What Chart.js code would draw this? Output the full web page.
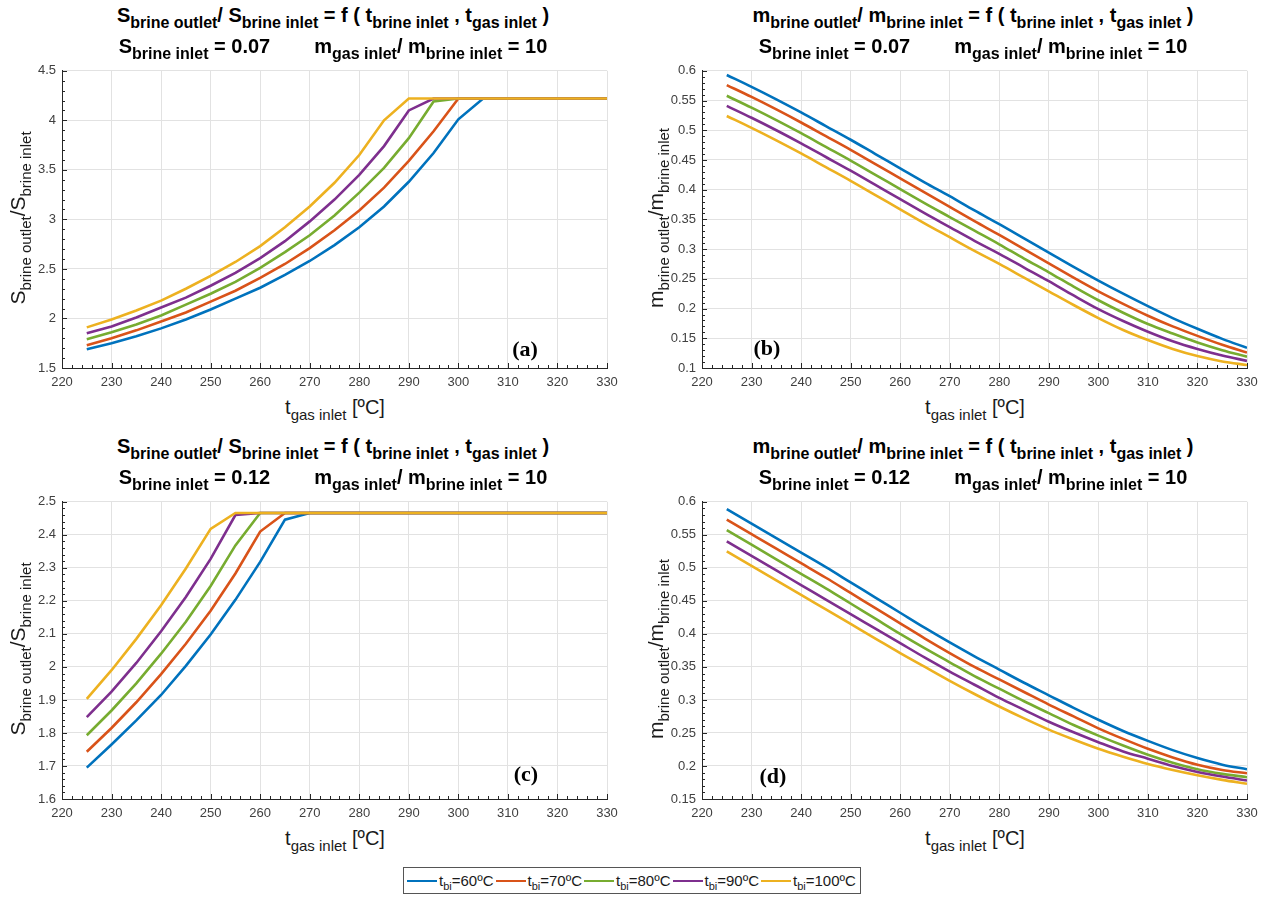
<!DOCTYPE html>
<html>
<head>
<meta charset="utf-8">
<script src="https://cdn.jsdelivr.net/npm/chart.js@4.4.0/dist/chart.umd.min.js"></script>
<style>
  html, body { margin: 0; padding: 0; background: #fff; }
  #fig { position: relative; width: 1265px; height: 897px; overflow: hidden; font-family: "Liberation Sans", Arial, sans-serif; color: #000; }
  #fig canvas { position: absolute; }
  .tl { position: absolute; width: 600px; height: 20px; line-height: 20px; text-align: center; font-weight: bold; font-size: 20px; white-space: nowrap; }
  .tl sub { font-size: 16px; vertical-align: -6px; line-height: 0; }
  .xl { position: absolute; width: 300px; height: 20px; line-height: 20px; text-align: center; font-size: 20px; white-space: nowrap; color: #1a1a1a; }
  .yl { position: absolute; width: 300px; height: 24px; line-height: 24px; text-align: center; font-size: 21px; white-space: nowrap; color: #1a1a1a; transform: rotate(-90deg); }
  .xl sub, .yl sub { font-size: 15px; vertical-align: -6px; line-height: 0; }
  .tag { position: absolute; width: 60px; height: 24px; line-height: 24px; text-align: center; font: bold 22px "Liberation Serif", "Times New Roman", serif; }
  #legend { position: absolute; left: 403px; top: 867px; height: 25px; border: 1px solid #555; background: #fff; display: flex; align-items: center; padding: 0 4px 0 3px; font-size: 15px; color: #1a1a1a; white-space: nowrap; }
  #legend .it { display: flex; align-items: center; margin-right: 2px; }
  #legend .it:last-child { margin-right: 0; }
  #legend .sw { display: inline-block; width: 30px; height: 0; border-top: 2.5px solid; margin-right: 2px; }
  #legend .tx { display: inline-block; line-height: 18px; color: #1a1a1a; }
  #legend sub { font-size: 11px; vertical-align: -4px; line-height: 0; color: #1a1a1a; }
</style>
</head>
<body>
<div id="fig"></div>
<script>
// x axis (shared by all four panels)
const TEMPS = [225, 230, 235, 240, 245, 250, 255, 260, 265, 270, 275, 280, 285, 290, 295, 300, 305, 310, 315, 320, 325, 330];
const X_RANGE = [220, 330, 10, 2];          // min, max, major step, minor step
const BRINE_TEMPS = ['60', '70', '80', '90', '100'];
const COLORS = ['#0072BD', '#D95319', '#77AC30', '#7E2F8E', '#EDB120'];

// (a) salinity ratio, S inlet = 0.07
const SA_60  = [1.69, 1.75, 1.82, 1.90, 1.99, 2.09, 2.20, 2.31, 2.44, 2.58, 2.74, 2.92, 3.13, 3.38, 3.67, 4.01, 4.22, 4.22, 4.22, 4.22, 4.22, 4.22];
const SA_70  = [1.73, 1.80, 1.88, 1.97, 2.06, 2.17, 2.28, 2.41, 2.55, 2.71, 2.89, 3.09, 3.32, 3.59, 3.89, 4.22, 4.22, 4.22, 4.22, 4.22, 4.22, 4.22];
const SA_80  = [1.79, 1.86, 1.94, 2.03, 2.14, 2.25, 2.37, 2.51, 2.67, 2.84, 3.04, 3.27, 3.52, 3.82, 4.19, 4.22, 4.22, 4.22, 4.22, 4.22, 4.22, 4.22];
const SA_90  = [1.85, 1.92, 2.01, 2.11, 2.21, 2.33, 2.46, 2.61, 2.78, 2.98, 3.20, 3.45, 3.74, 4.10, 4.22, 4.22, 4.22, 4.22, 4.22, 4.22, 4.22, 4.22];
const SA_100 = [1.91, 1.99, 2.08, 2.18, 2.30, 2.43, 2.57, 2.73, 2.92, 3.13, 3.37, 3.65, 4.00, 4.22, 4.22, 4.22, 4.22, 4.22, 4.22, 4.22, 4.22, 4.22];
const Y_A = [1.5, 4.5, 0.5, 0.1];

// (b) mass ratio, S inlet = 0.07
const MB_60  = [0.593, 0.573, 0.552, 0.530, 0.507, 0.484, 0.460, 0.436, 0.412, 0.389, 0.365, 0.342, 0.318, 0.294, 0.270, 0.247, 0.225, 0.204, 0.184, 0.166, 0.149, 0.134];
const MB_70  = [0.576, 0.556, 0.535, 0.513, 0.490, 0.467, 0.443, 0.419, 0.395, 0.371, 0.347, 0.324, 0.300, 0.276, 0.252, 0.229, 0.208, 0.188, 0.170, 0.154, 0.139, 0.126];
const MB_80  = [0.558, 0.538, 0.517, 0.495, 0.472, 0.449, 0.425, 0.401, 0.377, 0.354, 0.331, 0.308, 0.284, 0.261, 0.237, 0.214, 0.193, 0.174, 0.158, 0.143, 0.130, 0.119];
const MB_90  = [0.541, 0.521, 0.500, 0.478, 0.455, 0.432, 0.408, 0.384, 0.360, 0.337, 0.314, 0.292, 0.269, 0.246, 0.222, 0.199, 0.179, 0.161, 0.145, 0.132, 0.121, 0.112];
const MB_100 = [0.524, 0.504, 0.483, 0.461, 0.438, 0.415, 0.391, 0.367, 0.343, 0.320, 0.297, 0.275, 0.252, 0.229, 0.206, 0.184, 0.164, 0.147, 0.132, 0.120, 0.111, 0.105];
const Y_B = [0.1, 0.6, 0.05, 0.01];

// (c) salinity ratio, S inlet = 0.12
const SC_60  = [1.695, 1.765, 1.838, 1.915, 2.003, 2.098, 2.203, 2.318, 2.446, 2.466, 2.466, 2.466, 2.466, 2.466, 2.466, 2.466, 2.466, 2.466, 2.466, 2.466, 2.466, 2.466];
const SC_70  = [1.743, 1.815, 1.893, 1.978, 2.070, 2.170, 2.283, 2.410, 2.466, 2.466, 2.466, 2.466, 2.466, 2.466, 2.466, 2.466, 2.466, 2.466, 2.466, 2.466, 2.466, 2.466];
const SC_80  = [1.793, 1.868, 1.950, 2.040, 2.137, 2.245, 2.368, 2.466, 2.466, 2.466, 2.466, 2.466, 2.466, 2.466, 2.466, 2.466, 2.466, 2.466, 2.466, 2.466, 2.466, 2.466];
const SC_90  = [1.848, 1.925, 2.012, 2.108, 2.212, 2.327, 2.460, 2.466, 2.466, 2.466, 2.466, 2.466, 2.466, 2.466, 2.466, 2.466, 2.466, 2.466, 2.466, 2.466, 2.466, 2.466];
const SC_100 = [1.903, 1.990, 2.085, 2.187, 2.298, 2.418, 2.466, 2.466, 2.466, 2.466, 2.466, 2.466, 2.466, 2.466, 2.466, 2.466, 2.466, 2.466, 2.466, 2.466, 2.466, 2.466];
const Y_C = [1.6, 2.5, 0.1, 0.02];

// (d) mass ratio, S inlet = 0.12
const MD_60  = [0.589, 0.567, 0.545, 0.523, 0.501, 0.478, 0.455, 0.432, 0.409, 0.387, 0.366, 0.346, 0.326, 0.307, 0.288, 0.270, 0.253, 0.238, 0.224, 0.212, 0.202, 0.195];
const MD_70  = [0.573, 0.551, 0.529, 0.507, 0.485, 0.462, 0.439, 0.416, 0.393, 0.371, 0.350, 0.331, 0.312, 0.293, 0.275, 0.257, 0.241, 0.226, 0.213, 0.202, 0.194, 0.189];
const MD_80  = [0.557, 0.535, 0.513, 0.491, 0.469, 0.446, 0.423, 0.400, 0.378, 0.357, 0.336, 0.317, 0.298, 0.280, 0.262, 0.246, 0.231, 0.217, 0.205, 0.195, 0.188, 0.183];
const MD_90  = [0.540, 0.518, 0.496, 0.474, 0.452, 0.430, 0.408, 0.386, 0.364, 0.343, 0.323, 0.303, 0.285, 0.267, 0.251, 0.236, 0.222, 0.211, 0.200, 0.191, 0.184, 0.178];
const MD_100 = [0.525, 0.503, 0.481, 0.459, 0.437, 0.415, 0.393, 0.371, 0.350, 0.329, 0.309, 0.290, 0.272, 0.255, 0.240, 0.226, 0.214, 0.203, 0.194, 0.186, 0.179, 0.173];
const Y_D = [0.15, 0.6, 0.05, 0.01];

const TITLE_S = 'S<sub>brine outlet</sub>/ S<sub>brine inlet</sub> = f ( t<sub>brine inlet</sub> , t<sub>gas inlet</sub> )';
const TITLE_M = 'm<sub>brine outlet</sub>/ m<sub>brine inlet</sub> = f ( t<sub>brine inlet</sub> , t<sub>gas inlet</sub> )';
const subTitle = s => `S<sub>brine inlet</sub> = ${s}<span style="display:inline-block;width:44px"></span>m<sub>gas inlet</sub>/ m<sub>brine inlet</sub> = 10`;
const YLAB_S = 'S<sub>brine outlet</sub>/S<sub>brine inlet</sub>';
const YLAB_M = 'm<sub>brine outlet</sub>/m<sub>brine inlet</sub>';
const XLAB = 't<sub>gas inlet</sub> [ºC]';

const panels = [
  {ox: 0,   oy: 0,   w: 640, title: TITLE_S, sub: subTitle('0.07'), ylab: YLAB_S, yx: 18, tag: '(a)', tx: 525, ty: 348, y: Y_A, data: [SA_60, SA_70, SA_80, SA_90, SA_100], smooth: false},
  {ox: 640, oy: 0,   w: 625, title: TITLE_M, sub: subTitle('0.07'), ylab: YLAB_M, yx: 16, tag: '(b)', tx: 127, ty: 347, y: Y_B, data: [MB_60, MB_70, MB_80, MB_90, MB_100], smooth: true},
  {ox: 0,   oy: 431, w: 640, title: TITLE_S, sub: subTitle('0.12'), ylab: YLAB_S, yx: 18, tag: '(c)', tx: 526, ty: 342, y: Y_C, data: [SC_60, SC_70, SC_80, SC_90, SC_100], smooth: false},
  {ox: 640, oy: 431, w: 625, title: TITLE_M, sub: subTitle('0.12'), ylab: YLAB_M, yx: 16, tag: '(d)', tx: 133, ty: 344, y: Y_D, data: [MD_60, MD_70, MD_80, MD_90, MD_100], smooth: true}
];

// inward major/minor ticks on the left and bottom axes, MATLAB style
const axisTicks = {
  id: 'axisTicks',
  beforeDatasetsDraw(chart, args, o) {
    const {ctx, chartArea: a} = chart;
    const xs = chart.scales.x, ys = chart.scales.y;
    ctx.save();
    ctx.strokeStyle = '#262626';
    ctx.lineWidth = 1;
    ctx.beginPath();
    const nx = Math.round((xs.max - xs.min) / o.xMinor);
    for (let i = 0; i <= nx; i++) {
      const v = xs.min + i * o.xMinor;
      const k = (v - xs.min) / o.xMajor;
      const len = Math.abs(k - Math.round(k)) < 1e-6 ? 5 : 3;
      const px = Math.round(xs.getPixelForValue(v)) + 0.5;
      ctx.moveTo(px, a.bottom);
      ctx.lineTo(px, a.bottom - len);
    }
    const ny = Math.round((ys.max - ys.min) / o.yMinor);
    for (let i = 0; i <= ny; i++) {
      const v = ys.min + i * o.yMinor;
      const k = (v - ys.min) / o.yMajor;
      const len = Math.abs(k - Math.round(k)) < 1e-6 ? 5 : 3;
      const py = Math.round(ys.getPixelForValue(v)) + 0.5;
      ctx.moveTo(a.left, py);
      ctx.lineTo(a.left + len, py);
    }
    ctx.stroke();
    ctx.restore();
  }
};

const fig = document.getElementById('fig');
const tickFont = {family: "'Liberation Sans', Arial, sans-serif", size: 13};
const fmt = v => String(Math.round(v * 1000) / 1000);

panels.forEach(p => {
  const cv = document.createElement('canvas');
  cv.width = p.w;
  cv.height = 332;
  cv.style.left = p.ox + 'px';
  cv.style.top = (p.oy + 57) + 'px';
  cv.style.width = p.w + 'px';
  cv.style.height = '332px';
  fig.appendChild(cv);

  const add = (cls, html, left, top) => {
    const d = document.createElement('div');
    d.className = cls;
    d.innerHTML = html;
    d.style.left = left + 'px';
    d.style.top = top + 'px';
    fig.appendChild(d);
  };
  add('tl', p.title, p.ox + 33, p.oy + 5);
  add('tl', p.sub, p.ox + 33, p.oy + 36);
  add('xl', XLAB, p.ox + 185, p.oy + 397);
  add('yl', p.ylab, p.ox + p.yx - 150, p.oy + 218 - 12);
  add('tag', p.tag, p.ox + p.tx - 30, p.oy + p.ty - 12);

  new Chart(cv, {
    type: 'line',
    data: {
      datasets: p.data.map((vals, i) => ({
        label: 't_bi=' + BRINE_TEMPS[i] + 'ºC',
        data: TEMPS.map((t, k) => ({x: t, y: vals[k]})),
        borderColor: COLORS[i],
        borderWidth: 2.6,
        pointRadius: 0,
        fill: false,
        tension: p.smooth ? 0.4 : 0,
        cubicInterpolationMode: p.smooth ? 'monotone' : 'default',
        order: p.data.length - i
      }))
    },
    options: {
      responsive: false,
      animation: false,
      devicePixelRatio: 1,
      layout: {padding: {left: 0, right: p.w - 607, top: 10, bottom: 0}},
      plugins: {
        legend: {display: false},
        tooltip: {enabled: false},
        axisTicks: {xMajor: X_RANGE[2], xMinor: X_RANGE[3], yMajor: p.y[2], yMinor: p.y[3]}
      },
      scales: {
        x: {
          type: 'linear', min: X_RANGE[0], max: X_RANGE[1],
          ticks: {stepSize: X_RANGE[2], color: '#404040', font: tickFont, padding: 7, maxRotation: 0, callback: fmt},
          grid: {color: '#e2e2e2', drawTicks: false},
          border: {display: true, color: '#262626', width: 1},
          afterFit: s => { s.height = 21; }
        },
        y: {
          type: 'linear', min: p.y[0], max: p.y[1],
          ticks: {stepSize: p.y[2], color: '#404040', font: tickFont, padding: 6, callback: fmt},
          grid: {color: '#e2e2e2', drawTicks: false},
          border: {display: true, color: '#262626', width: 1},
          afterFit: s => { s.width = 62; }
        }
      }
    },
    plugins: [axisTicks]
  });
});

// shared legend
const lg = document.createElement('div');
lg.id = 'legend';
lg.innerHTML = BRINE_TEMPS.map((t, i) =>
  `<span class="it"><span class="sw" style="border-color:${COLORS[i]}"></span><span class="tx">t<sub>bi</sub>=${t}ºC</span></span>`).join('');
fig.appendChild(lg);
</script>
</body>
</html>
